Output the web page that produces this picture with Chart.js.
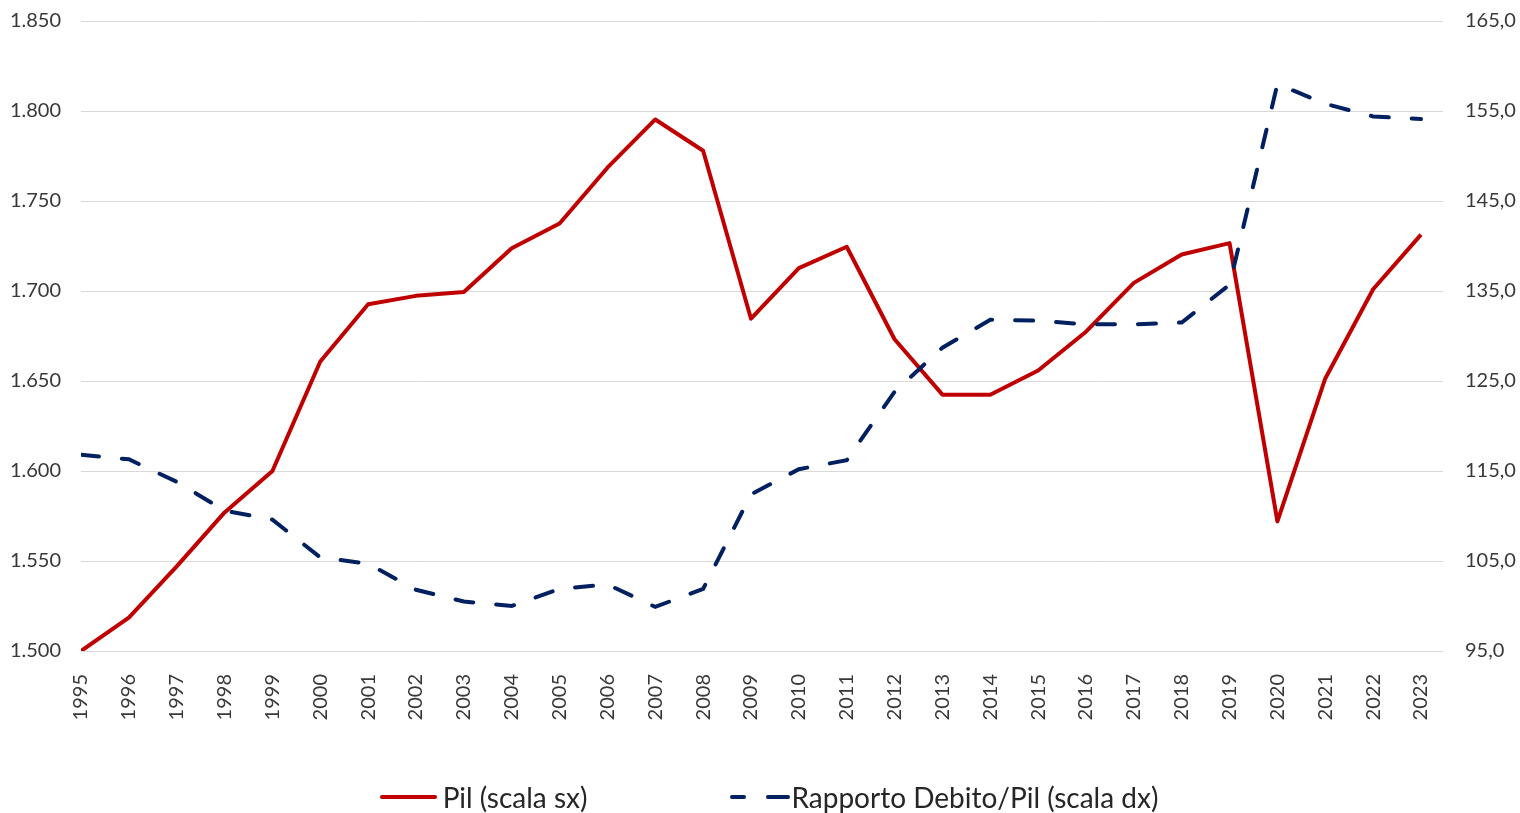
<!DOCTYPE html>
<html lang="it">
<head>
    <meta charset="UTF-8">
    <title>Pil e Rapporto Debito/Pil</title>
    <style>
        body {
            margin: 0;
            background: #ffffff;
            font-family: Lato, Arial, sans-serif;
        }
        #box {
            position: relative;
            width: 1520px;
            height: 813px;
        }
        #legenda {
            position: absolute;
            left: 9px;
            top: 780px;
            width: 1520px;
            display: flex;
            justify-content: center;
            gap: 142px;
            font-size: 28px;
            color: #262626;
        }
        #legenda span {
            display: flex;
            align-items: center;
        }
        #legenda svg.pil {
            margin-right: 6px;
        }
    </style>
    <script src="https://cdn.jsdelivr.net/npm/chart.js"></script>
</head>
<body>

<div id="box">
    <canvas id="grafico"></canvas>
    <div id="legenda">
        <span><svg class="pil" width="57" height="8"><line x1="2" y1="4" x2="55" y2="4" stroke="#C00000" stroke-width="4" stroke-linecap="round"/></svg>Pil (scala sx)</span>
        <span><svg width="62" height="8"><line x1="3" y1="4" x2="15" y2="4" stroke="#002060" stroke-width="4" stroke-linecap="round"/><line x1="39" y1="4" x2="59" y2="4" stroke="#002060" stroke-width="4" stroke-linecap="round"/></svg>Rapporto Debito/Pil (scala dx)</span>
    </div>
</div>

<script>
// anni
const anni = [1995, 1996, 1997, 1998, 1999, 2000, 2001, 2002, 2003, 2004,
              2005, 2006, 2007, 2008, 2009, 2010, 2011, 2012, 2013, 2014,
              2015, 2016, 2017, 2018, 2019, 2020, 2021, 2022, 2023];

// Pil (scala sx)
const pil = [1500, 1518.6, 1547, 1577, 1600, 1660.8, 1692.6, 1697.3, 1699.5, 1723.8,
             1737.5, 1768.5, 1795.3, 1777.9, 1684.6, 1712.7, 1724.6, 1673.2, 1642.4, 1642.4,
             1655.8, 1677.4, 1704.5, 1720.3, 1726.6, 1572, 1651.4, 1701, 1731.3];

// Rapporto Debito/Pil (scala dx)
const debito = [116.8, 116.3, 113.8, 110.6, 109.6, 105.4, 104.7, 101.8, 100.5, 100,
                101.9, 102.4, 99.9, 101.9, 112.4, 115.2, 116.2, 123.8, 128.7, 131.8,
                131.7, 131.3, 131.3, 131.5, 135.7, 158, 155.8, 154.4, 154.1];

const fontTick = { family: 'Lato', size: 20 };
const coloreTick = '#383838';

function migliaia(v) {
    return String(v).replace(/\B(?=(\d{3})+(?!\d))/g, '.');
}

// larghezza fissa degli assi y, senza margini extra sopra/sotto
function fissaAsse(w) {
    return s => {
        s.width = w;
        s.paddingTop = 0;
        s.paddingBottom = 0;
    };
}

const ctx = document.getElementById('grafico').getContext('2d');
const chart = new Chart(ctx, {
    type: 'line',
    data: {
        datasets: [{
            label: 'Pil (scala sx)',
            data: anni.map((a, i) => ({ x: a, y: pil[i] })),
            borderColor: '#C00000',
            backgroundColor: '#C00000',
            borderWidth: 4,
            borderJoinStyle: 'round',
            pointRadius: 0,
            tension: 0,
            yAxisID: 'ySx',
            order: 1
        }, {
            label: 'Rapporto Debito/Pil (scala dx)',
            data: anni.map((a, i) => ({ x: a, y: debito[i] })),
            borderColor: '#002060',
            backgroundColor: '#002060',
            borderWidth: 4,
            borderDash: [18, 23],
            borderCapStyle: 'round',
            pointRadius: 0,
            tension: 0,
            yAxisID: 'yDx',
            order: 0
        }]
    },
    options: {
        responsive: true,
        maintainAspectRatio: false,
        animation: false,
        layout: { padding: { top: 21, left: 0, right: 0, bottom: 0 } },
        plugins: {
            legend: { display: false },
            tooltip: { enabled: false }
        },
        scales: {
            x: {
                type: 'linear',
                min: 1995,
                max: 2023.46,
                grid: { display: false },
                border: { display: false },
                afterBuildTicks: s => { s.ticks = anni.map(a => ({ value: a })); },
                afterFit: s => { s.height = 162; },
                ticks: {
                    autoSkip: false,
                    maxRotation: 90,
                    minRotation: 90,
                    padding: 15,
                    font: fontTick,
                    color: coloreTick,
                    callback: v => String(v)
                }
            },
            ySx: {
                position: 'left',
                min: 1500,
                max: 1850,
                grid: { color: '#d9d9d9', lineWidth: 1, drawTicks: false },
                border: { display: false },
                afterFit: fissaAsse(81),
                ticks: {
                    stepSize: 50,
                    padding: 20,
                    font: fontTick,
                    color: coloreTick,
                    callback: v => migliaia(v)
                }
            },
            yDx: {
                position: 'right',
                min: 95,
                max: 165,
                grid: { display: false, drawTicks: false },
                border: { display: false },
                afterFit: fissaAsse(77),
                ticks: {
                    stepSize: 10,
                    padding: 22,
                    font: fontTick,
                    color: coloreTick,
                    callback: v => v.toFixed(1).replace('.', ',')
                }
            }
        }
    }
});
</script>

</body>
</html>
